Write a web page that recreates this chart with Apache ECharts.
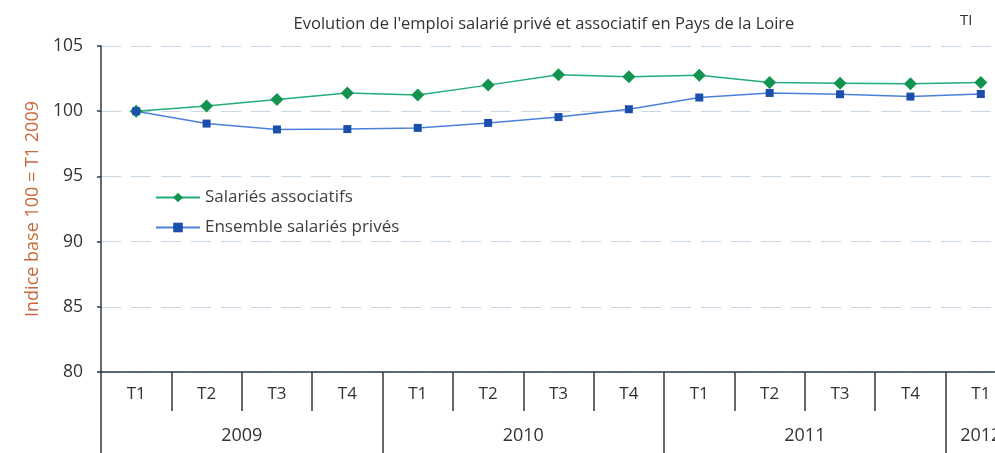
<!DOCTYPE html>
<html>
<head>
<meta charset="utf-8">
<script src="https://cdn.jsdelivr.net/npm/echarts@6/dist/echarts.min.js"></script>
<style>
html,body{margin:0;padding:0;background:#fff;overflow:hidden;}
#wrap{width:995px;height:453px;overflow:hidden;}
#chart{width:1016px;height:453px;}
</style>
</head>
<body>
<div id="wrap"><div id="chart"></div></div>
<script>
var quarters = ['T1','T2','T3','T4','T1','T2','T3','T4','T1','T2','T3','T4','T1'];
var years = ['2009','2010','2011','2012'];
var associatifs = [100, 100.4, 100.9, 101.4, 101.25, 102.0, 102.8, 102.65, 102.75, 102.2, 102.15, 102.1, 102.2];
var ensemble = [100, 99.05, 98.6, 98.63, 98.72, 99.1, 99.55, 100.15, 101.05, 101.4, 101.3, 101.12, 101.32];
var yTicks = [80, 85, 90, 95, 100, 105];

// half-quarter positions for year axis (0..26), year labels at group centers
var yearLabelAt = {4: years[0], 12: years[1], 20: years[2], 25: years[3]};
var halfSlots = [];
for (var i = 0; i <= quarters.length * 2; i++) halfSlots.push(yearLabelAt[i] || '');

var font = 'Open Sans';
var dark = '#2e3a46';
var chart = echarts.init(document.getElementById('chart'));
chart.setOption({
  animation: false,
  backgroundColor: '#fff',
  textStyle: {fontFamily: font},
  title: [{
    text: "Evolution de l'emploi salarié privé et associatif en Pays de la Loire",
    left: 539, top: 11, textAlign: 'center',
    textStyle: {fontSize: 16.5, fontWeight: 'normal', color: '#333', fontFamily: font}
  }, {
    text: 'TI', left: 955, top: 8,
    textStyle: {fontSize: 15, fontWeight: 'normal', color: '#333', fontFamily: font}
  }],
  legend: {
    orient: 'vertical', left: 150, top: 184, itemGap: 13,
    itemWidth: 44, itemHeight: 12,
    textStyle: {fontSize: 17, color: '#404040', fontFamily: font},
    data: ['Salariés associatifs', 'Ensemble salariés privés']
  },
  grid: {left: 101, right: 0, top: 46, bottom: 81, containLabel: false},
  xAxis: [{
    type: 'category', data: quarters, boundaryGap: true, position: 'bottom',
    axisLine: {lineStyle: {color: dark, width: 1.5}},
    axisTick: {show: true, length: 39, lineStyle: {color: dark, width: 1.5}},
    axisLabel: {margin: 14, fontSize: 17, color: '#333', fontFamily: font, interval: 0}
  }, {
    type: 'category', data: halfSlots, boundaryGap: false, position: 'bottom',
    axisLine: {show: false},
    axisTick: {show: true, length: 85, interval: function (idx) { return idx % 8 === 0; },
      lineStyle: {color: dark, width: 1.5}},
    axisLabel: {margin: 55, fontSize: 18, color: '#333', fontFamily: font,
      interval: function (idx) { return !!yearLabelAt[idx]; }}
  }],
  yAxis: {
    type: 'value', min: yTicks[0], max: yTicks[yTicks.length - 1], interval: 5,
    name: 'Indice base 100 = T1 2009', nameLocation: 'middle', nameGap: 56, nameRotate: 90,
    nameTextStyle: {fontSize: 18, color: '#c8683c', fontFamily: font},
    axisLine: {show: true, lineStyle: {color: dark, width: 1.5}},
    axisTick: {show: true, length: 4, lineStyle: {color: dark, width: 1.5}},
    axisLabel: {margin: 18, fontSize: 17.5, color: '#333', fontFamily: font},
    splitLine: {show: true, lineStyle: {color: '#c9d6e4', width: 1, type: [20, 10]}}
  },
  series: [{
    name: 'Salariés associatifs', type: 'line', data: associatifs, xAxisIndex: 0,
    symbol: 'diamond', symbolSize: 13,
    lineStyle: {color: '#23ad7a', width: 1.5},
    itemStyle: {color: '#129450'}
  }, {
    name: 'Ensemble salariés privés', type: 'line', data: ensemble, xAxisIndex: 0,
    symbol: 'rect', symbolSize: 8,
    lineStyle: {color: '#4a80dc', width: 1.5},
    itemStyle: {color: '#1c4fab'}
  }]
});
</script>
</body>
</html>
